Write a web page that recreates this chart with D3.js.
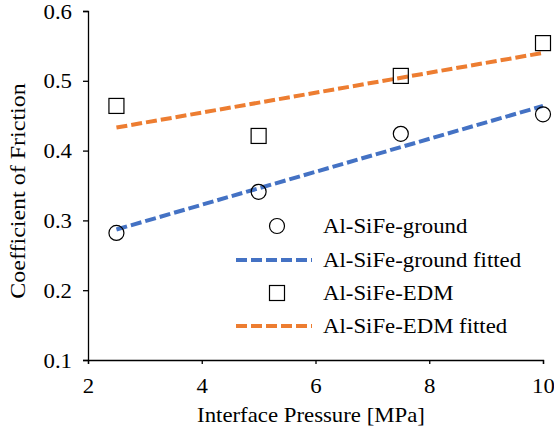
<!DOCTYPE html>
<html lang="en">
  <head>
    <meta charset="UTF-8" />
    <title>Coefficient of Friction</title>
    <script src="https://d3js.org/d3.v7.min.js"></script>
    <style>
      body { margin: 0; background: #fff; }
      text { font-family: "Liberation Serif", "Times New Roman", serif; fill: #000; }
    </style>
  </head>
  <body>
    <div id="chart"></div>
    <script>
      // data
      var pressure = [2.5, 5, 7.5, 10];
      var groundCof = [0.282, 0.341, 0.424, 0.452];
      var edmCof = [0.464, 0.421, 0.507, 0.554];
      var fitX = [2.5, 10];
      var groundFit = [0.287, 0.464];
      var edmFit = [0.433, 0.540];
      var xTicks = [2, 4, 6, 8, 10];
      var yTicks = [0.1, 0.2, 0.3, 0.4, 0.5, 0.6];
      var legendLabels = ["Al-SiFe-ground", "Al-SiFe-ground fitted", "Al-SiFe-EDM", "Al-SiFe-EDM fitted"];

      var blue = "#4472c4";
      var orange = "#ed7d31";
      var fs = 20;
      var stretch = 1.14;

      var width = 554, height = 432;
      var svg = d3.select("#chart").append("svg")
        .attr("width", width)
        .attr("height", height);

      var x = d3.scaleLinear().domain([2, 10]).range([88, 543]);
      var y = d3.scaleLinear().domain([0.1, 0.6]).range([360, 11]);

      // axes
      var xAxis = svg.append("g")
        .attr("transform", "translate(0,360)")
        .call(d3.axisBottom(x).tickValues(xTicks).tickSize(4).tickFormat(d3.format("d")));
      var yAxis = svg.append("g")
        .attr("transform", "translate(88,0)")
        .call(d3.axisLeft(y).tickValues(yTicks).tickSize(5).tickFormat(d3.format(".1f")));

      [xAxis, yAxis].forEach(function (g) {
        g.select(".domain").attr("stroke", "#000").attr("stroke-width", 1.3);
        g.selectAll(".tick line").attr("stroke", "#000").attr("stroke-width", 1.3);
        g.selectAll(".tick text").attr("font-size", fs).attr("font-family", null);
      });
      xAxis.selectAll(".tick text").attr("y", 0).attr("dy", 0)
        .attr("transform", "translate(0,33) scale(" + stretch + ",1)");
      yAxis.selectAll(".tick text").attr("x", 0).attr("dy", "0.35em")
        .attr("transform", "translate(-16,0) scale(" + stretch + ",1)");

      // axis titles
      svg.append("text")
        .attr("transform", "translate(311,422) scale(" + stretch + ",1)")
        .attr("text-anchor", "middle")
        .attr("font-size", fs)
        .text("Interface Pressure [MPa]");
      svg.append("text")
        .attr("transform", "translate(25,191) rotate(-90) scale(1.2,1)")
        .attr("text-anchor", "middle")
        .attr("font-size", fs)
        .text("Coefficient of Friction");

      // fitted lines
      var line = d3.line()
        .x(function (d) { return x(d[0]); })
        .y(function (d) { return y(d[1]); });

      svg.append("path")
        .datum(d3.zip(fitX, edmFit))
        .attr("fill", "none")
        .attr("stroke", orange)
        .attr("stroke-width", 4)
        .attr("stroke-dasharray", "11,4")
        .attr("d", line);
      svg.append("path")
        .datum(d3.zip(fitX, groundFit))
        .attr("fill", "none")
        .attr("stroke", blue)
        .attr("stroke-width", 4)
        .attr("stroke-dasharray", "11,4")
        .attr("d", line);

      // markers
      svg.append("g").selectAll("circle")
        .data(d3.zip(pressure, groundCof))
        .join("circle")
        .attr("cx", function (d) { return x(d[0]); })
        .attr("cy", function (d) { return y(d[1]); })
        .attr("r", 7.5)
        .attr("fill", "none")
        .attr("stroke", "#000")
        .attr("stroke-width", 1.2);

      svg.append("g").selectAll("rect")
        .data(d3.zip(pressure, edmCof))
        .join("rect")
        .attr("x", function (d) { return x(d[0]) - 7.5; })
        .attr("y", function (d) { return y(d[1]) - 7.5; })
        .attr("width", 15)
        .attr("height", 15)
        .attr("fill", "none")
        .attr("stroke", "#000")
        .attr("stroke-width", 1.2);

      // legend
      var legend = svg.append("g");
      var rowY = [226, 260, 293, 326];
      legendLabels.forEach(function (label, i) {
        var ly = rowY[i];
        if (i === 0) {
          legend.append("circle").attr("cx", 277).attr("cy", ly).attr("r", 7.5)
            .attr("fill", "none").attr("stroke", "#000").attr("stroke-width", 1.2);
        } else if (i === 2) {
          legend.append("rect").attr("x", 269.5).attr("y", ly - 7.5).attr("width", 15).attr("height", 15)
            .attr("fill", "none").attr("stroke", "#000").attr("stroke-width", 1.2);
        } else {
          legend.append("line").attr("x1", 236).attr("x2", 312).attr("y1", ly).attr("y2", ly)
            .attr("stroke", i === 1 ? blue : orange).attr("stroke-width", 4)
            .attr("stroke-dasharray", "11,4");
        }
        legend.append("text")
          .attr("transform", "translate(323," + (ly + 7) + ") scale(" + stretch + ",1)")
          .attr("font-size", fs)
          .text(label);
      });
    </script>
  </body>
</html>
